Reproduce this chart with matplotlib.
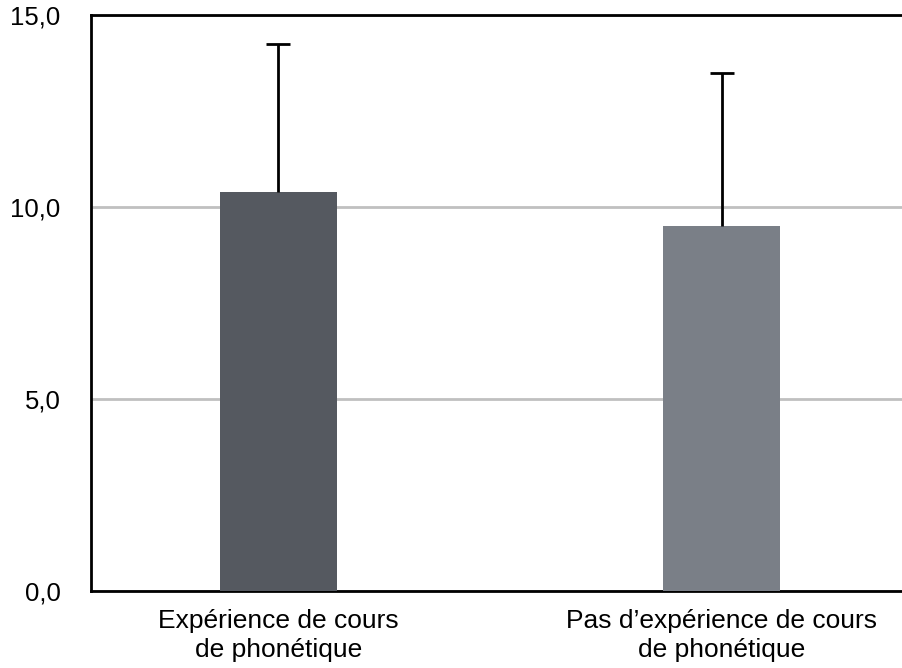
import matplotlib
matplotlib.use("Agg")
import matplotlib.pyplot as plt

categories = ["Expérience de cours\nde phonétique", "Pas d\u2019expérience de cours\nde phonétique"]
means = [10.4, 9.5]
errors = [3.85, 4.0]
colors = ["#555960", "#7a7f87"]
yticks = [0, 5, 10, 15]
ytick_labels = ["0,0", "5,0", "10,0", "15,0"]

plt.rcParams["font.family"] = ["Liberation Sans", "DejaVu Sans"]

fig = plt.figure(figsize=(9.02, 6.68), dpi=100)
ax = fig.add_axes([91 / 902, 1 - 591 / 668, (902 - 91) / 902, (591 - 15) / 668])

x = list(range(len(categories)))
tops = [m + e for m, e in zip(means, errors)]
ax.bar(x, means, width=0.264, color=colors, zorder=3)
# one-sided (upper) error bars with a cap at the top only
ax.vlines(x, means, tops, colors="black", linewidth=2.0, zorder=4)
ax.plot(x, tops, linestyle="none", marker="_", markersize=17,
        markeredgewidth=2.0, color="black", zorder=4)

ax.set_xlim(-0.423, 1.407)
ax.set_ylim(0, 15)
ax.set_yticks(yticks)
ax.set_yticklabels(ytick_labels, fontsize=18.5)
ax.set_xticks(x)
ax.set_xticklabels(categories, fontsize=19, linespacing=1.25)
ax.tick_params(axis="both", length=0, colors="black")
ax.tick_params(axis="y", pad=22)
ax.tick_params(axis="x", pad=13)

ax.yaxis.grid(True, color="#c0c0c0", linewidth=2.0, zorder=0)
ax.set_axisbelow(True)

for side in ["top", "left", "bottom"]:
    ax.spines[side].set_linewidth(2.0)
    ax.spines[side].set_color("black")
ax.spines["right"].set_visible(False)

fig.savefig("out.png", dpi=100)
